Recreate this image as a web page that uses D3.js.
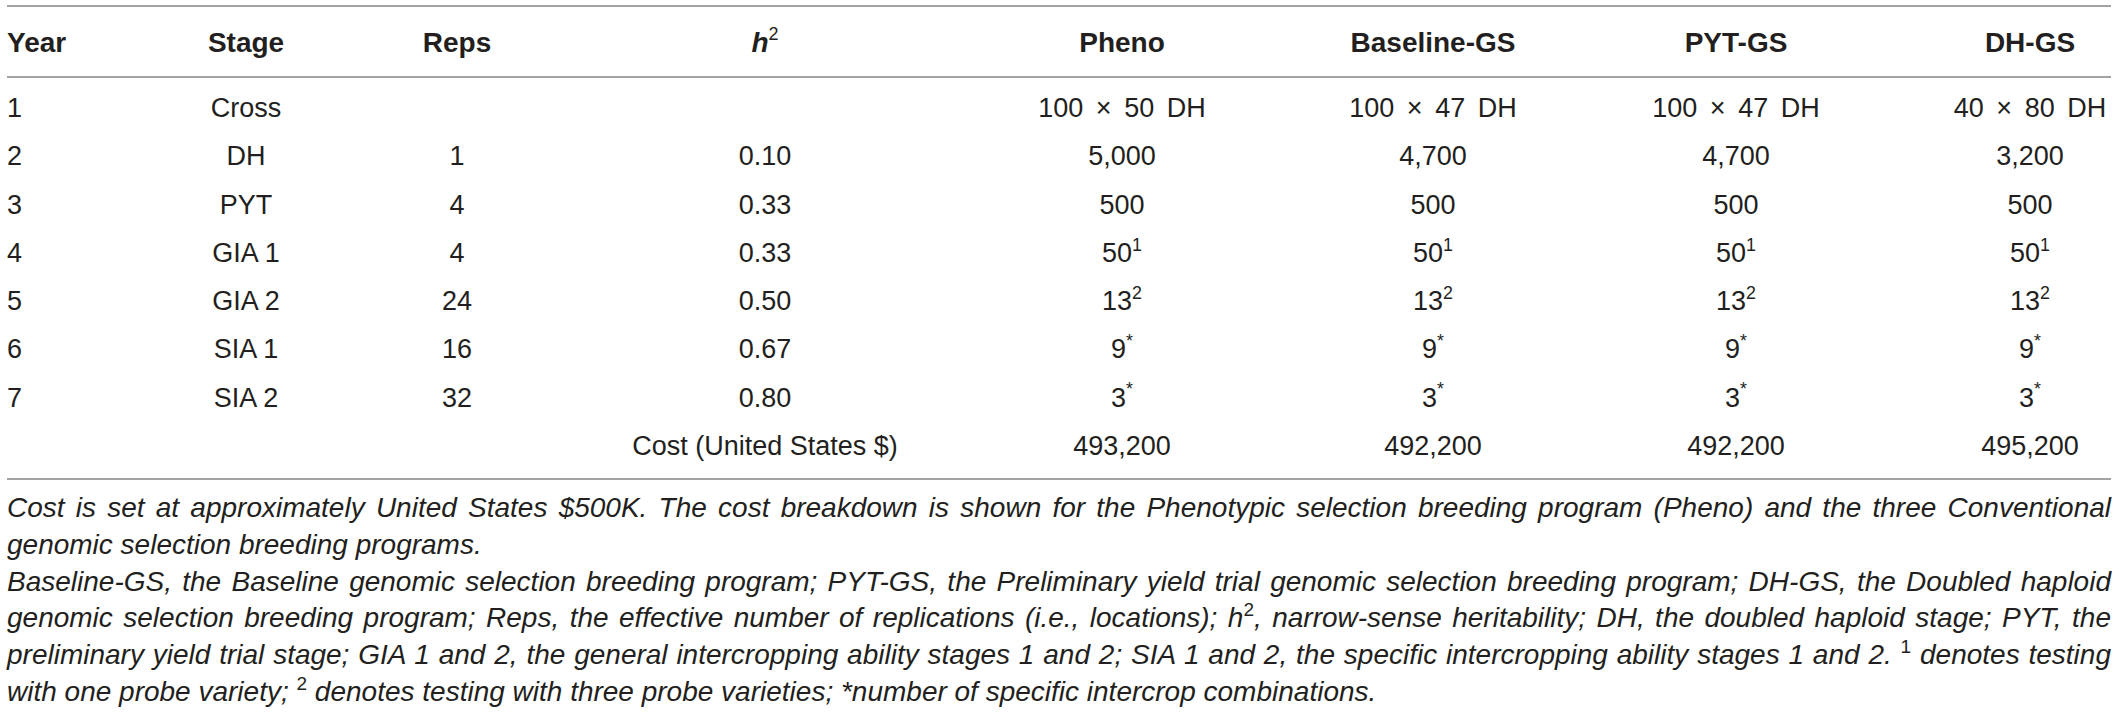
<!DOCTYPE html>
<html>
<head>
<meta charset="utf-8">
<script src="https://cdn.jsdelivr.net/npm/d3@7"></script>
<style>
  body { margin: 0; background: #fff; }
  svg text { font-family: "Liberation Sans", Arial, Helvetica, sans-serif; fill: #231f20; }
</style>
</head>
<body>
<div id="table"></div>
<script>
// table data (a "^" marks the start of a superscript)
const headers     = ['Year', 'Stage', 'Reps', 'h^2', 'Pheno', 'Baseline-GS', 'PYT-GS', 'DH-GS']
const years       = ['1', '2', '3', '4', '5', '6', '7', '']
const stages      = ['Cross', 'DH', 'PYT', 'GIA 1', 'GIA 2', 'SIA 1', 'SIA 2', '']
const reps        = ['', '1', '4', '4', '24', '16', '32', '']
const heritab     = ['', '0.10', '0.33', '0.33', '0.50', '0.67', '0.80', 'Cost (United States $)']
const pheno       = ['100 × 50 DH', '5,000', '500', '50^1', '13^2', '9^*', '3^*', '493,200']
const baselineGS  = ['100 × 47 DH', '4,700', '500', '50^1', '13^2', '9^*', '3^*', '492,200']
const pytGS       = ['100 × 47 DH', '4,700', '500', '50^1', '13^2', '9^*', '3^*', '492,200']
const dhGS        = ['40 × 80 DH', '3,200', '500', '50^1', '13^2', '9^*', '3^*', '495,200']

const columns = [years, stages, reps, heritab, pheno, baselineGS, pytGS, dhGS]

// footnote lines, split into [text, kind] pieces
const notes = [
  [['Cost is set at approximately United States $500K. The cost breakdown is shown for the Phenotypic selection breeding program (Pheno) and the three Conventional', 't']],
  [['genomic selection breeding programs.', 't']],
  [['Baseline-GS, the Baseline genomic selection breeding program; PYT-GS, the Preliminary yield trial genomic selection breeding program; DH-GS, the Doubled haploid', 't']],
  [['genomic selection breeding program; Reps, the effective number of replications (i.e., locations); h', 't'], ['2', 'sup'], [', narrow-sense heritability; DH, the doubled haploid stage; PYT, the', 't']],
  [['preliminary yield trial stage; GIA 1 and 2, the general intercropping ability stages 1 and 2; SIA 1 and 2, the specific intercropping ability stages 1 and 2. ', 't'], ['1', 'sup'], [' denotes testing', 't']],
  [['with one probe variety; ', 't'], ['2', 'sup'], [' denotes testing with three probe varieties; *number of specific intercrop combinations.', 't']]
]
const justified = [true, false, true, true, true, false]

let width = 2119, height = 716
let left = 7, right = 2111

let svg = d3.select('#table')
            .append('svg')
                .attr('width', width)
                .attr('height', height)

// column centres (Year is left aligned)
let x = d3.scaleOrdinal()
          .domain(d3.range(headers.length))
          .range([left, 246, 457, 765, 1122, 1433, 1736, 2030])

let y = d3.scalePoint()
          .domain(d3.range(years.length))
          .range([107, 445])

// rules
svg.selectAll('line.rule')
    .data([6, 77, 479])
    .enter()
    .append('line')
    .attr('class', 'rule')
    .attr('x1', left).attr('x2', right)
    .attr('y1', d => d).attr('y2', d => d)
    .style('stroke', '#a3a3a3')
    .style('stroke-width', 2)

// write "a^b" as text with a superscript
function cell(sel, value, size) {
    let parts = value.split('^')
    sel.append('tspan').text(parts[0])
    if (parts.length > 1) {
        sel.append('tspan')
            .attr('dy', -size * 0.42)
            .style('font-size', (size * 0.66) + 'px')
            .text(parts[1])
    }
}

// header
headers.forEach((h, j) => {
    let t = svg.append('text')
        .attr('x', x(j))
        .attr('y', 52)
        .attr('text-anchor', j === 0 ? 'start' : 'middle')
        .style('font-size', '28px')
        .style('font-weight', 'bold')
    if (h === 'h^2') {
        t.append('tspan').style('font-style', 'italic').text('h')
        t.append('tspan')
            .attr('dy', -12)
            .style('font-size', '18px')
            .style('font-weight', 'normal')
            .text('2')
    } else {
        t.text(h)
    }
})

// body
columns.forEach((col, j) => {
    svg.selectAll('text.c' + j)
        .data(col)
        .enter()
        .append('text')
        .attr('class', 'c' + j)
        .attr('x', x(j))
        .attr('y', (d, i) => y(i) + 10)
        .attr('text-anchor', j === 0 ? 'start' : 'middle')
        .style('font-size', '27px')
        .style('word-spacing', d => d.includes('×') ? '5px' : null)
        .each(function(d) { cell(d3.select(this), d, 27) })
})

// footnotes
let noteSize = 28
notes.forEach((line, i) => {
    let t = svg.append('text')
        .attr('x', left)
        .attr('y', 517 + i * 36.8)
        .style('font-size', noteSize + 'px')
        .style('font-style', 'italic')
    line.forEach(([txt, kind], k) => {
        let s = t.append('tspan').text(txt)
        if (kind === 'sup') {
            s.attr('dy', -11).style('font-size', '19px').style('font-style', 'normal')
        } else if (k > 0 && line[k - 1][1] === 'sup') {
            s.attr('dy', 11)
        }
    })
    if (justified[i]) {
        let w = t.node().getComputedTextLength()
        let gaps = line.map(p => p[0]).join('').split(' ').length - 1
        t.style('word-spacing', ((right - left - w) / gaps) + 'px')
    }
})
</script>
</body>
</html>
